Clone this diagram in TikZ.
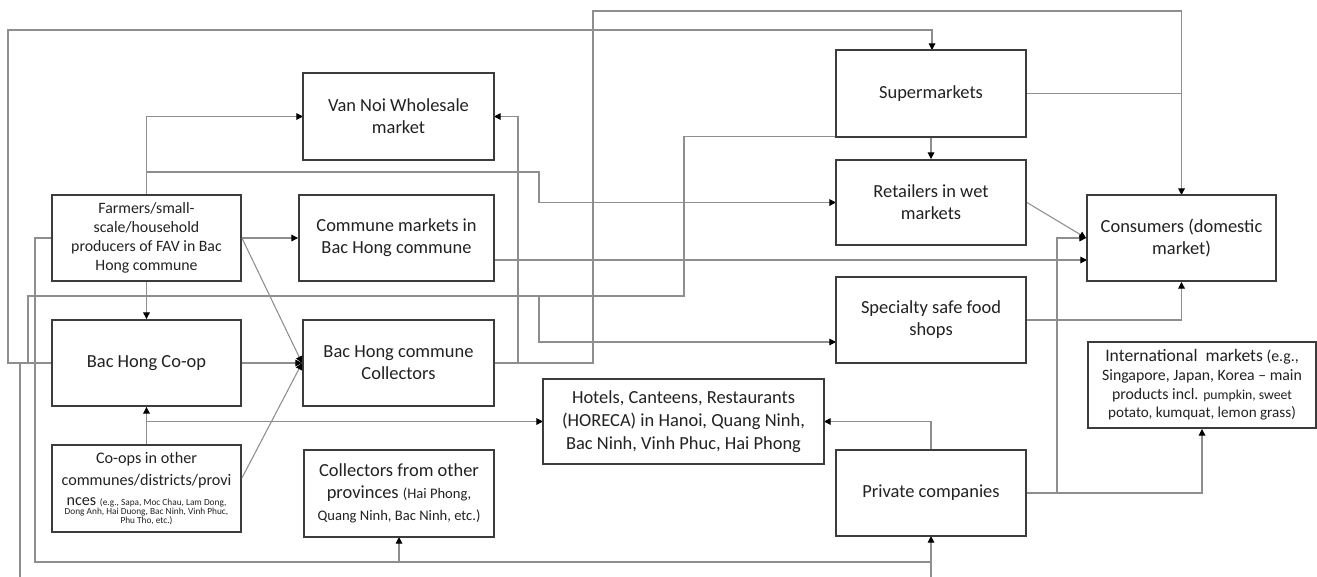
\documentclass[tikz,border=0pt]{standalone}
\usepackage{fontspec}
\setmainfont{Carlito}
\usetikzlibrary{arrows.meta}
\definecolor{boxc}{HTML}{3C3C3C}
\definecolor{linec}{HTML}{8E8E8E}
\definecolor{txt}{HTML}{222222}
\newcommand{\tinytxt}{\fontsize{5.3}{5.8}\selectfont}
\begin{document}
\begin{tikzpicture}[x=0.02cm,y=-0.02cm,
  box/.style={draw=boxc, line width=1.1pt, fill=white, align=center, inner sep=1pt,
    text=txt, font=\fontsize{10.5}{12.6}\selectfont},
  conn/.style={draw=linec, line width=0.6pt},
  arr/.style={conn, -{Triangle[length=3.8pt,width=3.8pt,color=black]}}]
\clip (0,0) rectangle (1317,576);
\fill[white] (0,0) rectangle (1317,576);

% ---- connectors (drawn first, boxes on top) ----
% Bac Hong Co-op around the top to Supermarkets
\draw[arr] (52,363) -- (8,363) -- (8,30) -| (932,50);
% Bac Hong commune Collectors over the top to Consumers
\draw[arr] (494,363) -| (593,11) -| (1181.5,195);
% Supermarkets joining the line to Consumers
\draw[conn] (1026,93.5) -- (1181.5,93.5);
% Collectors back to Van Noi
\draw[arr] (494,363) -- (518,363) |- (494,116.5);
% Farmers to Van Noi
\draw[arr] (146.5,195) |- (303,116.5);
% Farmers to Retailers
\draw[arr] (146.5,172) -| (539,202.5) -- (836,202.5);
% Co-op to Supermarkets corner and Specialty shops
\draw[conn] (52,363) -- (28,363) -- (28,296) -- (684,296) -- (684,136.5) -- (836,136.5);
\draw[arr] (539,296) |- (836,342);
% Co-ops in other communes to HORECA
\draw[arr] (146.5,445) |- (543,421.5);
% Private companies to HORECA
\draw[arr] (931,450) |- (824,421.5);
% Commune markets to Consumers
\draw[arr] (494,260) -- (1087,260);
% Farmers down the left side to provincial collectors and private companies
\draw[arr] (52,238) -- (35,238) -- (35,562) -| (931,536);
\draw[arr] (399,562) -- (399,537);
% Co-op down the far left side to private companies
\draw[conn] (52,363) -- (20,363) -- (20,590) -| (931,562);

% ---- boxes ----
\node[box, minimum width=3.78cm, minimum height=1.72cm, font=\fontsize{9}{10.8}\selectfont] (farmers) at (146.5,238)
  {Farmers/small-\\scale/household\\producers of FAV in Bac\\Hong commune};
\node[box, minimum width=3.82cm, minimum height=1.74cm] (vannoi) at (398.5,116.5)
  {Van Noi Wholesale\\market};
\node[box, minimum width=3.90cm, minimum height=1.72cm] (commune) at (396.5,238)
  {Commune markets in\\Bac Hong commune};
\node[box, minimum width=3.78cm, minimum height=1.72cm] (coop) at (146.5,363)
  {Bac Hong Co-op};
\node[box, minimum width=3.82cm, minimum height=1.72cm] (collectors) at (398.5,363)
  {Bac Hong commune\\Collectors};
\node[box, minimum width=3.78cm, minimum height=1.74cm, font=\fontsize{9.2}{12.4}\selectfont] (coopsother) at (146.5,488.5)
  {Co-ops in other\\communes/districts/provi\\[-1pt]nces {\tinytxt (e.g., Sapa, Moc Chau, Lam Dong,}\\[-7.2pt]
   {\tinytxt Dong Anh, Hai Duong, Bac Ninh, Vinh Phuc,}\\[-7.1pt]
   {\tinytxt Phu Tho, etc.)}};
\node[box, minimum width=3.80cm, minimum height=1.74cm] (colother) at (399,493.5)
  {Collectors from other\\provinces {\fontsize{8.3}{10}\selectfont (Hai Phong,}\\
   {\fontsize{8.3}{10}\selectfont Quang Ninh, Bac Ninh, etc.)}};
\node[box, minimum width=5.62cm, minimum height=1.70cm, font=\fontsize{10.5}{13}\selectfont] (horeca) at (683.5,421.5)
  {Hotels, Canteens, Restaurants\\(HORECA) in Hanoi, Quang Ninh,\\Bac Ninh, Vinh Phuc, Hai Phong};
\node[box, minimum width=3.80cm, minimum height=1.74cm] (super) at (931,93.5)
  {Supermarkets};
\node[box, minimum width=3.80cm, minimum height=1.70cm] (retail) at (931,202.5)
  {Retailers in wet\\markets};
\node[box, minimum width=3.80cm, minimum height=1.72cm] (specialty) at (931,320)
  {Specialty safe food\\shops};
\node[box, minimum width=3.80cm, minimum height=1.72cm] (private) at (931,493)
  {Private companies};
\node[box, minimum width=3.78cm, minimum height=1.72cm] (consumers) at (1181.5,238)
  {Consumers (domestic\\market)};
\node[box, minimum width=4.56cm, minimum height=1.72cm, font=\fontsize{9}{10.6}\selectfont] (intl) at (1202,385)
  {{\fontsize{10}{10.6}\selectfont International\ \ markets} (e.g.,\\Singapore, Japan, Korea – main\\
   products incl. {\fontsize{7.8}{10}\selectfont pumpkin, sweet}\\{\fontsize{8.6}{10}\selectfont potato, kumquat, lemon grass)}};

% ---- named links between boxes ----
\draw[arr] (farmers.east) -- (commune.west);
\draw[arr] (farmers.east) -- (collectors.west);
\draw[arr] (farmers.south) -- (coop.north);
\draw[arr] (coop.east) -- (collectors.west);
\draw[arr] (coopsother.north) -- (coop.south);
\draw[arr] ([yshift=6pt]coopsother.east) -- (collectors.west);
\draw[arr] (super.south) -- (retail.north);
\draw[arr] (retail.east) -- (consumers.west);
\draw[arr] (private.east) -- (1057,493) |- (consumers.west);
\draw[arr] (private.east) -| (intl.south);
\draw[arr] (specialty.east) -| (consumers.south);
\end{tikzpicture}
\end{document}
